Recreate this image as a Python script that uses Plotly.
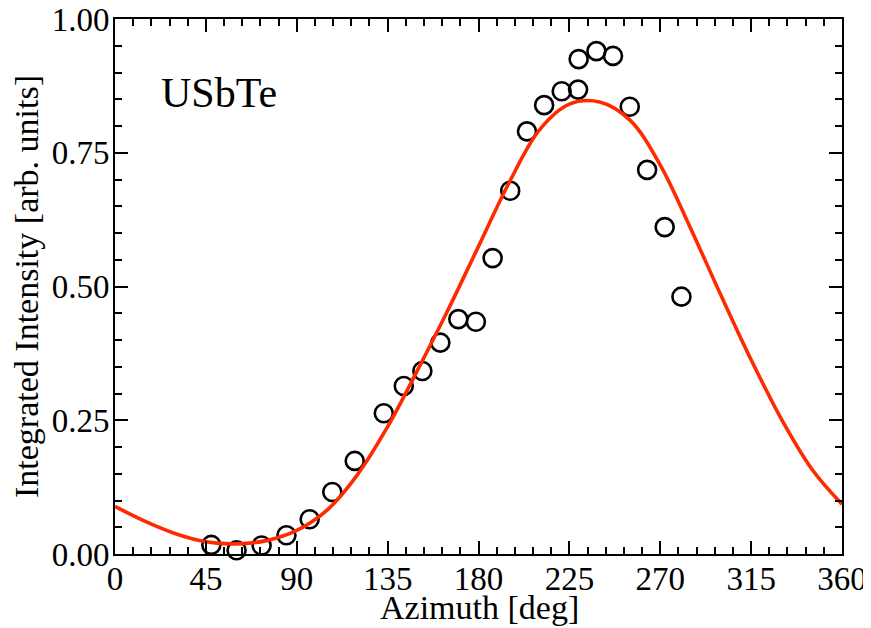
import plotly.graph_objects as go

# Measured data points (azimuth in deg, integrated intensity)
azimuth = [47.7, 60.2, 72.6, 84.9, 96.4, 107.6, 118.7, 133.1, 143.0, 152.2,
           161.1, 170.0, 178.7, 187.0, 195.7, 204.0, 212.5, 221.2, 229.3, 229.6,
           238.4, 246.6, 254.9, 263.5, 272.2, 280.5]
intensity = [0.017, 0.007, 0.016, 0.035, 0.065, 0.116, 0.174, 0.263, 0.314, 0.342,
             0.395, 0.439, 0.434, 0.553, 0.679, 0.790, 0.839, 0.865, 0.868, 0.925,
             0.940, 0.931, 0.836, 0.718, 0.611, 0.481]

# Fit curve
fit_azimuth = [0, 15, 30, 45, 60, 75, 90, 105, 120, 135, 150, 165, 180,
               195, 210, 225, 240, 255, 270, 285, 300, 315, 330, 345, 360]
fit_intensity = [0.089, 0.061, 0.038, 0.023, 0.019, 0.025, 0.044, 0.082, 0.148,
                 0.238, 0.345, 0.457, 0.575, 0.693, 0.792, 0.841, 0.845, 0.811,
                 0.727, 0.609, 0.484, 0.363, 0.252, 0.159, 0.093]

x_ticks = [0, 45, 90, 135, 180, 225, 270, 315, 360]
y_ticks = [0.0, 0.25, 0.5, 0.75, 1.0]
y_tick_text = ["0.00", "0.25", "0.50", "0.75", "1.00"]

FONT = "Liberation Serif, Times New Roman, serif"

fig = go.Figure()
fig.add_trace(go.Scatter(
    x=azimuth, y=intensity, mode="markers",
    marker=dict(symbol="circle-open", size=18, color="black",
                line=dict(width=2.6, color="black")),
    showlegend=False, cliponaxis=False,
))
fig.add_trace(go.Scatter(
    x=fit_azimuth, y=fit_intensity, mode="lines",
    line=dict(color="#ff2a00", width=3.6, shape="spline", smoothing=1.0),
    showlegend=False,
))

fig.add_annotation(
    x=22.0, y=0.862, xref="x", yref="y", text="USbTe", showarrow=False,
    xanchor="left", yanchor="middle",
    font=dict(family=FONT, size=42, color="black"),
)
fig.add_annotation(
    x=0.502, y=-0.1, xref="paper", yref="paper", text="Azimuth [deg]",
    showarrow=False, xanchor="center", yanchor="middle",
    font=dict(family=FONT, size=34, color="black"),
)

axis_common = dict(
    showline=True, linecolor="black", linewidth=2, mirror="ticks",
    ticks="inside", tickcolor="black", tickwidth=2, ticklen=13,
    showgrid=False, zeroline=False, ticklabeloverflow="allow",
    tickfont=dict(family=FONT, size=33, color="black"),
)

fig.update_xaxes(
    range=[0, 360], tickvals=x_ticks, ticklabelstandoff=-6,
    minor=dict(ticks="inside", dtick=9, tick0=0, ticklen=7, tickwidth=2,
               tickcolor="black", showgrid=False),
    **axis_common,
)
fig.update_yaxes(
    range=[0, 1.0], tickvals=y_ticks, ticktext=y_tick_text, ticklabelstandoff=-3,
    minor=dict(ticks="inside", dtick=0.05, tick0=0, ticklen=7, tickwidth=2,
               tickcolor="black", showgrid=False),
    title=dict(text="Integrated Intensity [arb. units]",
               font=dict(family=FONT, size=34, color="black"), standoff=8),
    **axis_common,
)

# page body has an 8px margin, so the figure is 8px smaller than the window
fig.update_layout(
    width=863, height=620,
    margin=dict(l=107, r=29, t=11, b=74, autoexpand=False),
    plot_bgcolor="white", paper_bgcolor="white",
)

fig.write_html("out.html")
